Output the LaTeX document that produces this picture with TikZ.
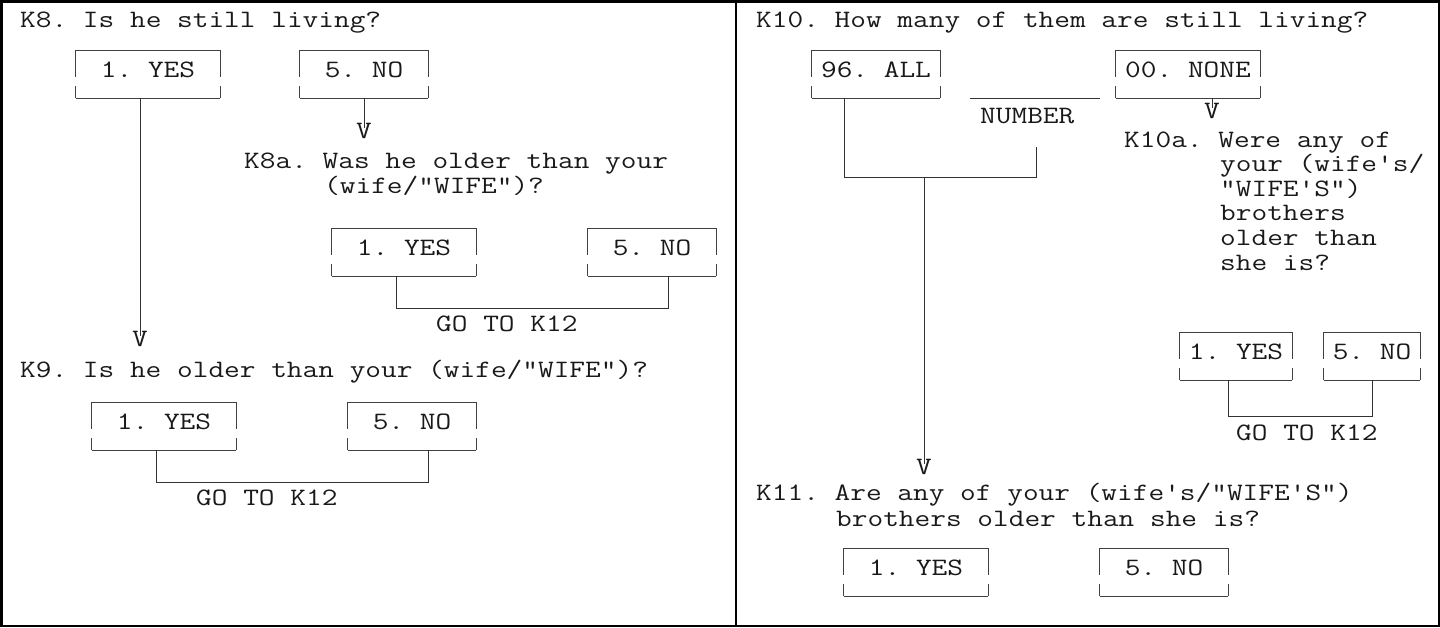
\documentclass[tikz,border=0pt]{standalone}
\usepackage{fontspec}
\setmonofont{Latin Modern Mono}[FakeStretch=1.219]
\usetikzlibrary{calc}
\newcommand\drawtbox[1]{%
  \draw[boxline] (#1.north west) -- (#1.north east);
  \draw[boxline] (#1.south west) -- (#1.south east);
  \draw[boxline] (#1.north west) -- ++(0,27);
  \draw[boxline] ($(#1.south west)+(0,-12)$) -- (#1.south west);
  \draw[boxline] (#1.north east) -- ++(0,27);
  \draw[boxline] ($(#1.south east)+(0,-12)$) -- (#1.south east);
}
\begin{document}
\begin{tikzpicture}[x=1pt,y=-1pt,
  mono/.style={font=\ttfamily\fontsize{25}{30}\selectfont, text=black!90},
  txt/.style={mono, inner sep=0pt, anchor=base west},
  tbox/.style={mono, inner sep=0pt, text height=27pt, text depth=21pt, anchor=north, minimum width=#1},
  vmark/.style={mono, inner sep=0pt, anchor=center},
  boxline/.style={draw=black!75, line width=1pt},
  conn/.style={draw=black!80, line width=1pt},
  frame/.style={draw=black, line width=2.5pt}
]
\useasboundingbox (0,0) rectangle (1440,627);
\draw[frame] (1.25,1.25) rectangle (1438.75,625.75);
\draw[frame] (736,0) -- (736,627);

% ---------- left panel ----------
\node[txt] (k8) at (20,27) {K8. Is he still living?};
\node[tbox=144pt] (k8y) at (148,50) {1. YES};
\node[tbox=128pt] (k8n) at (364,50) {5. NO};
\node[vmark] (v1) at (364,131) {V};
\node[txt] (k8a) at (244,168) {K8a. Was he older than your};
\node[txt] (k8a2) at (324,193) {(wife/"WIFE")?};
\node[tbox=144pt] (k8ay) at (404,228) {1. YES};
\node[tbox=128pt] (k8an) at (652,228) {5. NO};
\node[txt] (go1) at (436,331) {GO TO K12};
\node[vmark] (v2) at (140,339) {V};
\node[txt] (k9) at (20,377) {K9. Is he older than your (wife/"WIFE")?};
\node[tbox=144pt] (k9y) at (164,402) {1. YES};
\node[tbox=128pt] (k9n) at (412,402) {5. NO};
\node[txt] (go2) at (196,505) {GO TO K12};

\drawtbox{k8y}\drawtbox{k8n}\drawtbox{k8ay}\drawtbox{k8an}\drawtbox{k9y}\drawtbox{k9n}

\draw[conn] (k8n.south) -- ($(v1.center)+(0,-3)$);
\draw[conn] ($(k8y.south)+(-8,0)$) -- ($(v2.center)+(0,-3)$);
\draw[conn] ($(k8ay.south)+(-8,0)$) -- ++(0,32) -| ($(k8an.south)+(16,0)$);
\draw[conn] ($(k9y.south)+(-8,0)$) -- ++(0,32) -| ($(k9n.south)+(16,0)$);

% ---------- right panel ----------
\node[txt] (k10) at (756,27) {K10. How many of them are still living?};
\node[tbox=128pt] (all) at (876,50) {96. ALL};
\node[tbox=144pt] (none) at (1188,50) {00. NONE};
\node[txt] (num) at (980,123) {NUMBER};
\node[vmark] (v3) at (1212,111) {V};
\node[txt] (k10a) at (1124,147) {K10a. Were any of};
\node[txt] (k10a2) at (1220,171.6) {your (wife's/};
\node[txt] (k10a3) at (1220,196.2) {"WIFE'S")};
\node[txt] (k10a4) at (1220,220.8) {brothers};
\node[txt] (k10a5) at (1220,245.4) {older than};
\node[txt] (k10a6) at (1220,270) {she is?};
\node[tbox=112pt] (k10ay) at (1236,332) {1. YES};
\node[tbox=96pt] (k10an) at (1372,332) {5. NO};
\node[txt] (go3) at (1236,440) {GO TO K12};
\node[vmark] (v4) at (924,467) {V};
\node[txt] (k11) at (756,500) {K11. Are any of your (wife's/"WIFE'S")};
\node[txt] (k11b) at (836,526) {brothers older than she is?};
\node[tbox=144pt] (k11y) at (916,548) {1. YES};
\node[tbox=128pt] (k11n) at (1164,548) {5. NO};

\drawtbox{all}\drawtbox{none}\drawtbox{k10ay}\drawtbox{k10an}\drawtbox{k11y}\drawtbox{k11n}

\coordinate (numend) at (1036,147);
\coordinate (junc) at (924,177);
\draw[conn] (970,98) -- (1100,98);
\draw[conn] ($(none.south)+(24,0)$) -- ($(v3.center)+(0,-3)$);
\draw[conn] ($(all.south)+(-32,0)$) -- ++(0,79) -| (numend);
\draw[conn] (junc) -- ($(v4.center)+(0,-3)$);
\draw[conn] ($(k10ay.south)+(-8,0)$) -- ++(0,36) -| (k10an.south);
\end{tikzpicture}
\end{document}
